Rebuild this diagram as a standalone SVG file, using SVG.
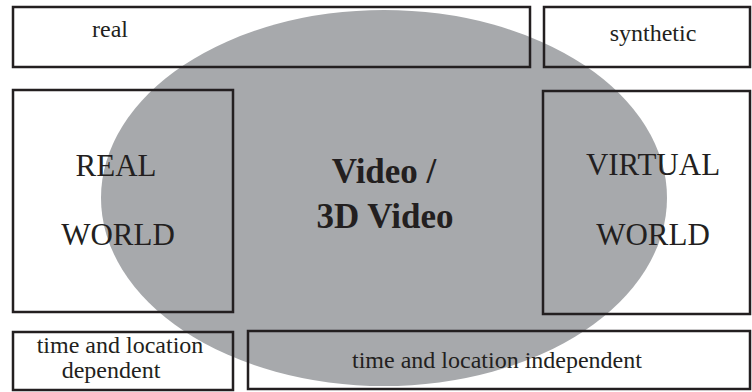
<svg xmlns="http://www.w3.org/2000/svg" width="752" height="392" viewBox="0 0 752 392">
<style>
.box{fill:none;stroke:#231f20;stroke-width:2.5}
.t{font-family:"Liberation Serif","Times New Roman",serif;fill:#231f20;text-anchor:middle}
.s{font-size:24px}
.l{font-size:31px}
.b{font-size:35px;font-weight:bold}
</style>
<rect x="0" y="0" width="752" height="392" fill="#ffffff"/>
<g id="video">
<ellipse cx="384" cy="198" rx="283" ry="188" fill="#a7a9ac"/>
<text class="t b" x="384" y="183">Video /</text>
<text class="t b" x="385" y="228">3D Video</text>
</g>
<g id="connectors"></g>
<g id="real">
<rect class="box" x="13" y="7" width="517" height="60"/>
<text class="t s" x="110" y="37">real</text>
</g>
<g id="synthetic">
<rect class="box" x="544" y="7" width="206" height="60"/>
<text class="t s" x="653" y="41">synthetic</text>
</g>
<g id="real-world">
<rect class="box" x="13" y="90" width="220" height="222"/>
<text class="t l" x="116" y="176">REAL</text>
<text class="t l" x="118" y="245">WORLD</text>
</g>
<g id="virtual-world">
<rect class="box" x="543" y="91" width="207" height="223"/>
<text class="t l" x="653" y="175">VIRTUAL</text>
<text class="t l" x="653" y="245">WORLD</text>
</g>
<g id="dependent">
<rect class="box" x="13" y="332" width="220" height="58"/>
<text class="t s" x="120" y="353">time and location</text>
<text class="t s" x="111" y="378">dependent</text>
</g>
<g id="independent">
<rect class="box" x="248" y="331" width="502" height="58"/>
<text class="t s" x="497" y="368">time and location independent</text>
</g>
</svg>
